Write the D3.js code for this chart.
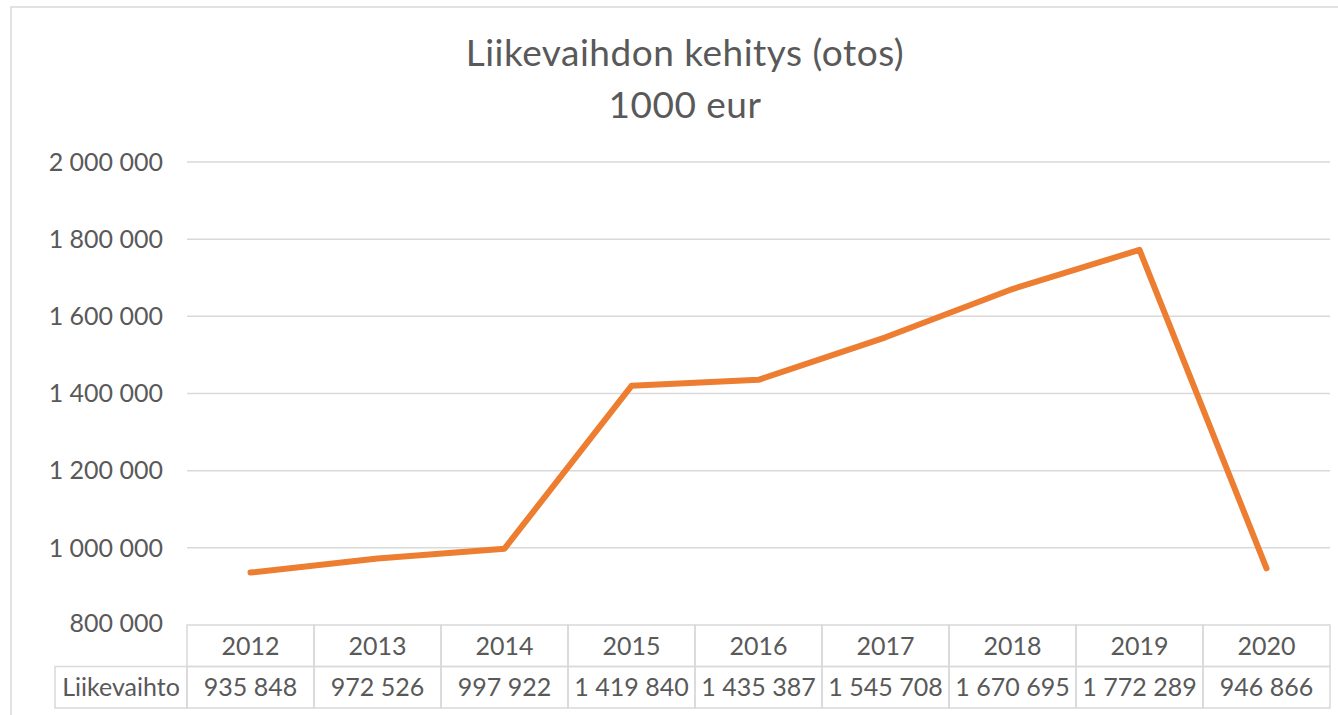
<!DOCTYPE html>
<html>
<head>
<meta charset="utf-8">
<script src="https://cdn.jsdelivr.net/npm/d3@7"></script>
<style>
  body { margin: 0; background: #fff; }
  svg { display: block; font-family: Lato, 'Open Sans', sans-serif; }
  .grid line { stroke: #d9d9d9; stroke-width: 1.5; }
  .tick-label { fill: #595959; font-size: 25px; }
  .cell { fill: none; stroke: #d9d9d9; stroke-width: 1.5; }
  .cell-text { fill: #595959; font-size: 25px; }
  .title { fill: #595959; font-size: 37px; letter-spacing: 0.5px; }
</style>
</head>
<body>
<div id="chart"></div>
<script>
const years = ['2012', '2013', '2014', '2015', '2016', '2017', '2018', '2019', '2020']
const revenue = [935848, 972526, 997922, 1419840, 1435387, 1545708, 1670695, 1772289, 946866]
const yTicks = [800000, 1000000, 1200000, 1400000, 1600000, 1800000, 2000000]
const seriesName = 'Liikevaihto'
const titleLines = ['Liikevaihdon kehitys (otos)', '1000 eur']

const width = 1338
const height = 715
const plot = { left: 187, right: 1330, top: 162, bottom: 625 }
const rowH = 41.5

const fiFormat = d3.formatLocale({ decimal: ',', thousands: '\u2009', grouping: [3], currency: ['', ' €'] }).format(',')
const fmt = v => fiFormat(v).replace(/\u2009/g, ' ')

const svg = d3.select('#chart').append('svg')
  .attr('width', width)
  .attr('height', height)

// chart frame
svg.append('path')
  .attr('d', `M11 ${height + 5}L11 7L${width + 5} 7`)
  .attr('fill', 'none')
  .attr('stroke', '#d9d9d9')
  .attr('stroke-width', 1.5)

// TITLE
svg.append('g')
  .selectAll('text')
  .data(titleLines)
  .enter().append('text')
  .attr('class', 'title')
  .attr('x', 685)
  .attr('y', (d, i) => 66 + i * 52)
  .attr('text-anchor', 'middle')
  .text(d => d)

const xScale = d3.scaleBand()
  .domain(years)
  .range([plot.left, plot.right])

const yScale = d3.scaleLinear()
  .domain([yTicks[0], yTicks[yTicks.length - 1]])
  .range([plot.bottom, plot.top])

// GRID
svg.append('g')
  .attr('class', 'grid')
  .selectAll('line')
  .data(yTicks.slice(1))
  .enter().append('line')
  .attr('x1', plot.left)
  .attr('x2', plot.right)
  .attr('y1', d => yScale(d))
  .attr('y2', d => yScale(d))

// Y LABELS
svg.append('g')
  .selectAll('text')
  .data(yTicks)
  .enter().append('text')
  .attr('class', 'tick-label')
  .attr('x', 163)
  .attr('y', d => yScale(d) + (d === yTicks[0] ? -2 : 0))
  .attr('dy', '0.35em')
  .attr('text-anchor', 'end')
  .text(fmt)

// DATA TABLE
const table = svg.append('g').attr('class', 'table')

years.forEach((yr, i) => {
  const x = xScale(yr)
  table.append('rect')
    .attr('class', 'cell')
    .attr('x', x).attr('y', plot.bottom)
    .attr('width', xScale.bandwidth()).attr('height', rowH)
  table.append('rect')
    .attr('class', 'cell')
    .attr('x', x).attr('y', plot.bottom + rowH)
    .attr('width', xScale.bandwidth()).attr('height', rowH)
  table.append('text')
    .attr('class', 'cell-text')
    .attr('x', x + xScale.bandwidth() / 2)
    .attr('y', plot.bottom + rowH / 2)
    .attr('dy', '0.35em')
    .attr('text-anchor', 'middle')
    .text(yr)
  table.append('text')
    .attr('class', 'cell-text')
    .attr('x', x + xScale.bandwidth() / 2)
    .attr('y', plot.bottom + rowH * 1.5)
    .attr('dy', '0.35em')
    .attr('text-anchor', 'middle')
    .text(fmt(revenue[i]))
})

table.append('rect')
  .attr('class', 'cell')
  .attr('x', 55).attr('y', plot.bottom + rowH)
  .attr('width', plot.left - 55).attr('height', rowH)

table.append('text')
  .attr('class', 'cell-text')
  .attr('x', (55 + plot.left) / 2)
  .attr('y', plot.bottom + rowH * 1.5)
  .attr('dy', '0.35em')
  .attr('text-anchor', 'middle')
  .text(seriesName)

// LINE
svg.append('path')
  .datum(revenue)
  .attr('fill', 'none')
  .attr('stroke', '#ed7d31')
  .attr('stroke-width', 6)
  .attr('stroke-linejoin', 'round')
  .attr('stroke-linecap', 'round')
  .attr('d', d3.line()
    .x((d, i) => xScale(years[i]) + xScale.bandwidth() / 2)
    .y(d => yScale(d)))
</script>
</body>
</html>
